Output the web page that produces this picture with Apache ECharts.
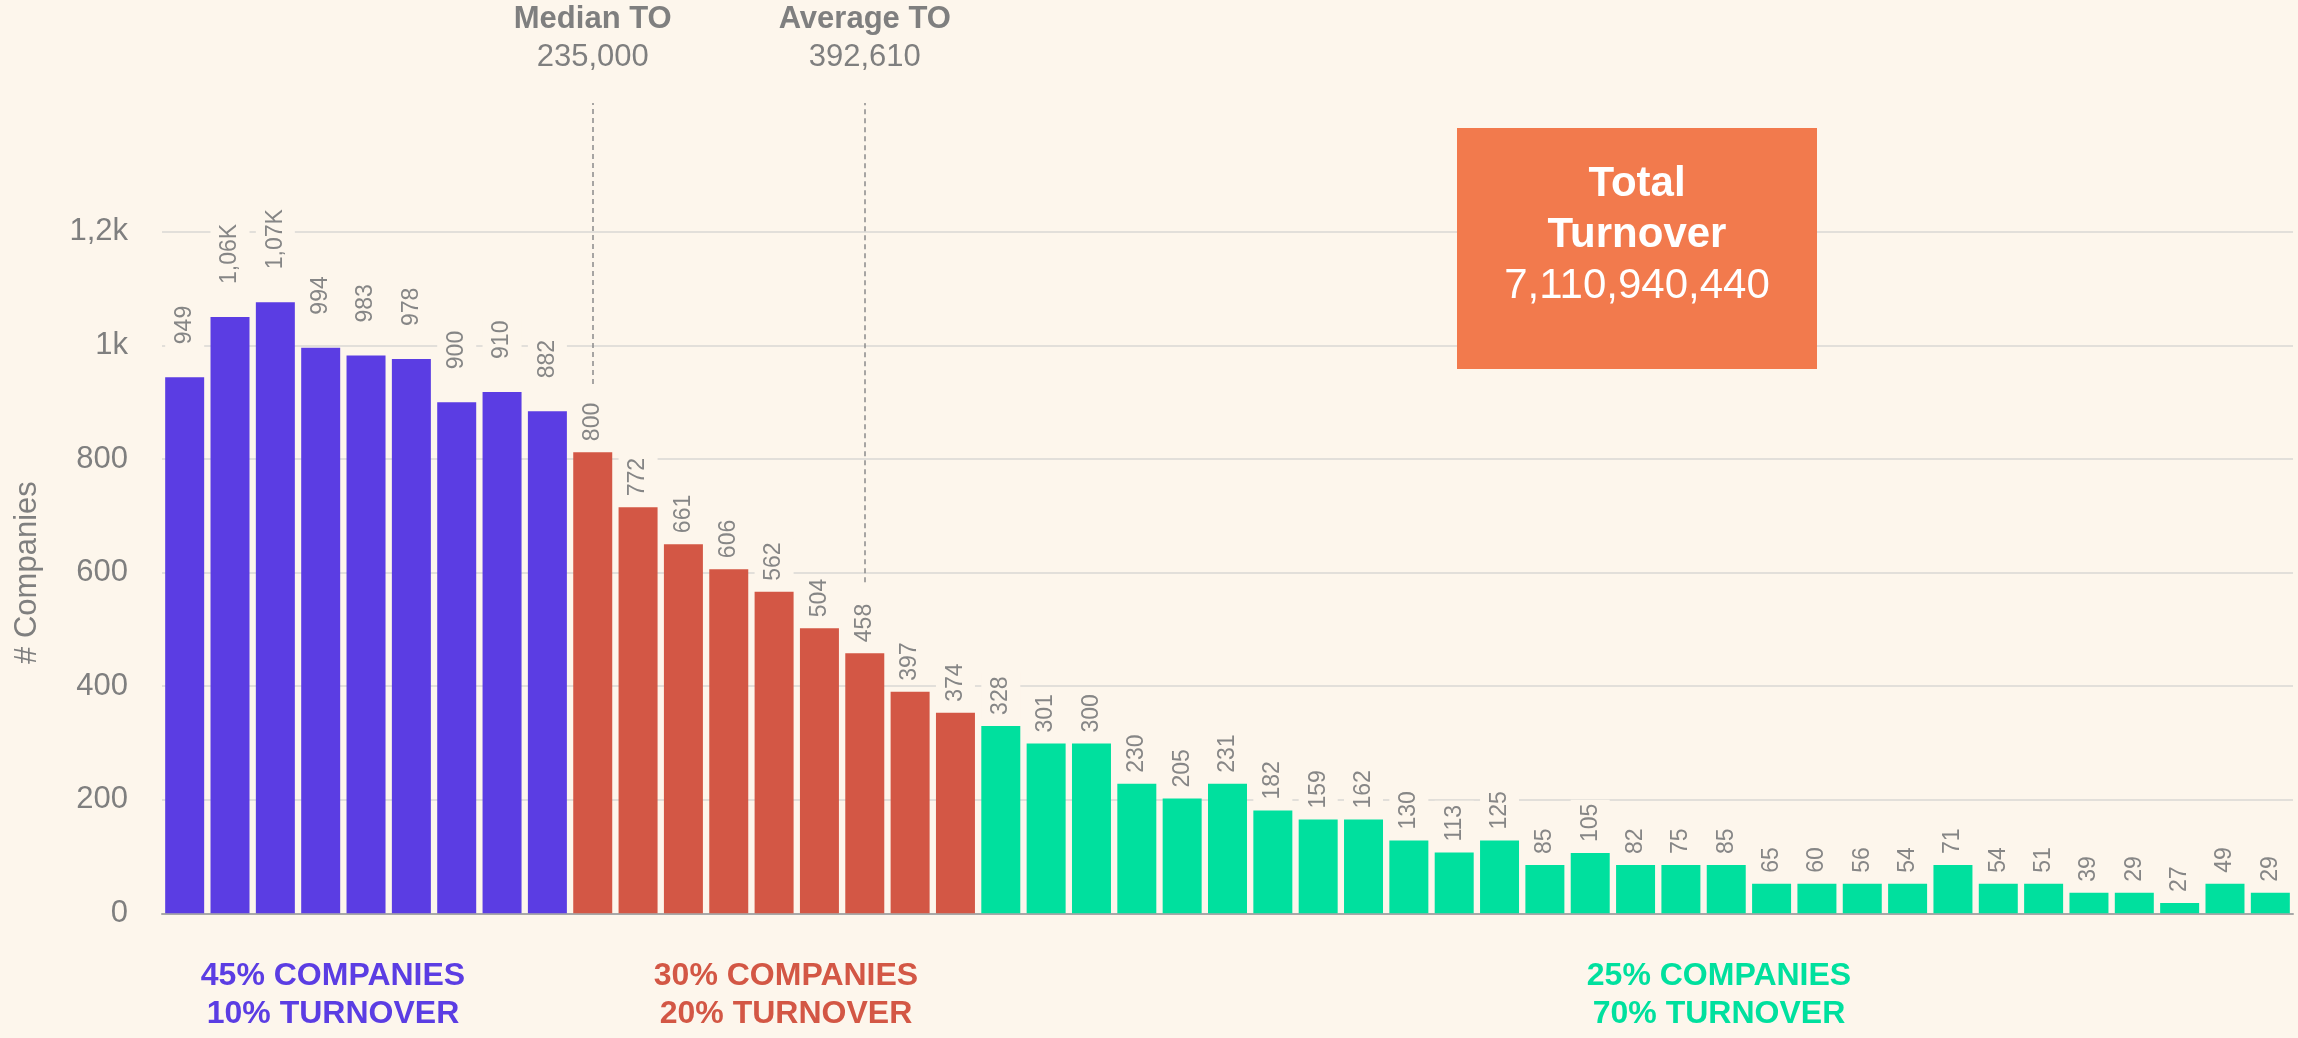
<!DOCTYPE html>
<html>
<head>
<meta charset="utf-8">
<script src="https://cdn.jsdelivr.net/npm/echarts@6/dist/echarts.min.js"></script>
<style>
html,body{margin:0;padding:0;background:#FDF6EC;}
#chart{width:2298px;height:1038px;}
</style>
</head>
<body>
<div id="chart"></div>
<script>
// ---- data ----
const bins = ['1','2','3','4','5','6','7','8','9','10','11','12','13','14','15','16','17','18','19','20','21','22','23','24','25','26','27','28','29','30','31','32','33','34','35','36','37','38','39','40','41','42','43','44','45','46','47'];
// printed counts (bar labels)
const companyCounts = [949,1060,1070,994,983,978,900,910,882,
  800,772,661,606,562,504,458,397,374,
  328,301,300,230,205,231,182,159,162,130,113,125,85,105,82,75,85,65,60,56,54,71,54,51,39,29,27,49,29];
// bar heights as drawn in the picture
const barHeights = [944,1050,1076,996,982,976,900,918,884,
  812,715,650,606,566,502,458,390,353,
  330,299,299,228,202,228,181,165,165,128,107,128,85,106,85,85,85,52,52,52,52,85,52,52,36,36,18,52,36];
const groupSizes = [9, 9, 29];
const groupTexts = ['45% COMPANIES\n10% TURNOVER', '30% COMPANIES\n20% TURNOVER', '25% COMPANIES\n70% TURNOVER'];
const yTicks = [0, 200, 400, 600, 800, 1000, 1200];
const medianBin = 9, medianName = 'Median TO', medianValue = '235,000';
const averageBin = 15, averageName = 'Average TO', averageValue = '392,610';
const totalName = ['Total', 'Turnover'];
const totalValue = '7,110,940,440';

// ---- styles ----
const BG = '#FDF6EC';
const groupColors = ['#5B3DE3', '#D35745', '#00E09E'];
const groupLabelDist = [29, 7, 7];
const FONT = '"Liberation Sans", Arial, sans-serif';
const GRAY = '#7F7F7F';

function groupOf(i) {
  let acc = 0;
  for (let g = 0; g < groupSizes.length; g++) { acc += groupSizes[g]; if (i < acc) return g; }
  return groupSizes.length - 1;
}
function fmtLabel(v) {
  return v >= 1000 ? (v / 1000).toFixed(2).replace('.', ',') + 'K' : String(v);
}
function fmtAxis(v) {
  return v >= 1000 ? String(v / 1000).replace('.', ',') + 'k' : String(v);
}

const barData = barHeights.map((h, i) => {
  const g = groupOf(i);
  return {
    value: h,
    itemStyle: { color: groupColors[g] },
    label: { distance: groupLabelDist[g] }
  };
});

function markPair(bin, bottom, name, value) {
  return [
    { xAxis: bins[bin], yAxis: bottom, label: { formatter: '{n|' + name + '}\n{v|' + value + '}' } },
    { xAxis: bins[bin], yAxis: yTicks[yTicks.length - 1], y: 103 }
  ];
}

const chart = echarts.init(document.getElementById('chart'), null, { renderer: 'canvas' });
chart.setOption({
  backgroundColor: BG,
  animation: false,
  textStyle: { fontFamily: FONT },
  grid: { left: 162, right: 5, top: 231.8, bottom: 124.7, containLabel: false, outerBoundsMode: 'none' },
  xAxis: {
    type: 'category',
    data: bins,
    axisTick: { show: false },
    axisLabel: { show: false },
    axisLine: { lineStyle: { color: '#A8A8A8', width: 2 } },
    splitLine: { show: false }
  },
  yAxis: {
    type: 'value',
    min: yTicks[0],
    max: yTicks[yTicks.length - 1],
    interval: yTicks[1] - yTicks[0],
    name: '# Companies',
    nameLocation: 'middle',
    nameRotate: 90,
    nameGap: 119,
    nameTextStyle: { color: GRAY, fontSize: 31, fontFamily: FONT },
    axisLine: { show: false },
    axisTick: { show: false },
    axisLabel: { color: GRAY, fontSize: 31, margin: 34, fontFamily: FONT, formatter: fmtAxis },
    splitLine: { lineStyle: { color: '#E2DFDA', width: 2 } }
  },
  series: [{
    type: 'bar',
    data: barData,
    barCategoryGap: '14%',
    silent: true,
    label: {
      show: true,
      position: 'top',
      rotate: 90,
      align: 'left',
      verticalAlign: 'middle',
      color: '#868686',
      fontSize: 23,
      fontFamily: FONT,
      backgroundColor: BG,
      padding: [8, 4, 8, 4],
      formatter: p => fmtLabel(companyCounts[p.dataIndex])
    },
    markLine: {
      silent: true,
      symbol: ['none', 'none'],
      lineStyle: { type: [5, 4], color: '#8A8A8A', width: 1.5 },
      label: {
        show: true,
        position: 'end',
        distance: 27,
        color: GRAY,
        fontFamily: FONT,
        rich: {
          n: { fontSize: 31, fontWeight: 'bold', color: GRAY, lineHeight: 38, fontFamily: FONT },
          v: { fontSize: 31, color: GRAY, lineHeight: 38, fontFamily: FONT }
        }
      },
      data: [
        markPair(medianBin, 932, medianName, medianValue),
        markPair(averageBin, 583, averageName, averageValue)
      ]
    }
  }],
  graphic: [
    {
      type: 'rect',
      z: 100,
      shape: { x: 1457, y: 128, width: 360, height: 241 },
      style: { fill: '#F27A4D' },
      silent: true
    },
    {
      type: 'text',
      z: 101,
      x: 1637, y: 235,
      silent: true,
      style: {
        text: '{b|' + totalName[0] + '}\n{b|' + totalName[1] + '}\n{n|' + totalValue + '}',
        align: 'center',
        verticalAlign: 'middle',
        fill: '#FFFFFF',
        rich: {
          b: { fontSize: 42, fontWeight: 'bold', fill: '#FFFFFF', lineHeight: 51, fontFamily: FONT, align: 'center' },
          n: { fontSize: 42, fill: '#FFFFFF', lineHeight: 51, fontFamily: FONT, align: 'center' }
        }
      }
    },
    ...groupTexts.map((t, g) => ({
      type: 'text',
      z: 101,
      x: [333, 786, 1719][g],
      y: 995,
      silent: true,
      style: {
        text: t,
        align: 'center',
        verticalAlign: 'middle',
        fill: groupColors[g],
        font: 'bold 32px ' + FONT,
        lineHeight: 38
      }
    }))
  ]
});
</script>
</body>
</html>
